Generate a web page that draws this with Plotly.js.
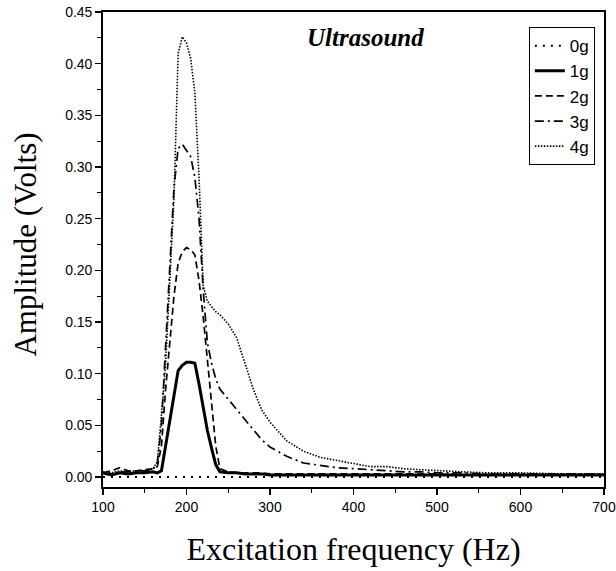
<!DOCTYPE html>
<html>
<head>
<meta charset="utf-8">
<script src="https://cdn.plot.ly/plotly-3.0.1.min.js"></script>
<style>html,body{margin:0;padding:0;background:#fff}#chart{width:616px;height:571px}</style>
</head>
<body>
<div id="chart"></div>
<script>
const freq = [100,110,120,130,140,150,160,165,170,175,180,185,190,195,200,205,210,215,220,225,230,235,240,250,260,270,280,290,300,320,340,360,380,400,420,440,460,480,500,530,560,600,650,700];
const amp0g = [0,0,0,0,0,0,0,0,0,0,0,0,0,0,0,0,0,0,0,0,0,0,0,0,0,0,0,0,0,0,0,0,0,0,0,0,0,0,0,0,0,0,0,0];
const amp1g = [0.004,0.002,0.004,0.003,0.004,0.004,0.005,0.004,0.006,0.03,0.055,0.08,0.103,0.108,0.111,0.111,0.110,0.09,0.068,0.045,0.028,0.012,0.005,0.004,0.004,0.003,0.003,0.003,0.002,0.002,0.002,0.002,0.002,0.002,0.002,0.002,0.002,0.002,0.002,0.002,0.002,0.002,0.002,0.002];
const amp2g = [0.004,0.006,0.009,0.006,0.006,0.007,0.008,0.01,0.03,0.085,0.13,0.175,0.207,0.218,0.222,0.22,0.215,0.19,0.155,0.115,0.07,0.03,0.008,0.005,0.004,0.004,0.004,0.004,0.003,0.003,0.003,0.003,0.003,0.003,0.003,0.003,0.003,0.003,0.003,0.002,0.002,0.002,0.002,0.002];
const amp3g = [0.004,0.003,0.005,0.005,0.006,0.006,0.008,0.012,0.05,0.13,0.21,0.28,0.318,0.322,0.316,0.31,0.29,0.25,0.181,0.13,0.11,0.095,0.085,0.075,0.066,0.055,0.045,0.036,0.029,0.02,0.0135,0.011,0.009,0.008,0.007,0.006,0.005,0.005,0.004,0.004,0.003,0.003,0.003,0.003];
const amp4g = [0.005,0.004,0.006,0.005,0.006,0.006,0.008,0.015,0.06,0.11,0.19,0.27,0.41,0.426,0.42,0.405,0.372,0.29,0.185,0.17,0.165,0.16,0.157,0.148,0.135,0.11,0.085,0.065,0.053,0.035,0.025,0.019,0.016,0.0135,0.01,0.01,0.008,0.007,0.006,0.005,0.004,0.004,0.003,0.003];
const seriesNames = ['0g','1g','2g','3g','4g'];
const xTicks = [100,200,300,400,500,600,700];
const yTicks = [0,0.05,0.10,0.15,0.20,0.25,0.30,0.35,0.40,0.45];

const styles = [
  {width:2, dash:'2px,6px'},
  {width:3, dash:'solid'},
  {width:1.7, dash:'7px,4px'},
  {width:1.7, dash:'9px,4px,2px,4px'},
  {width:1.6, dash:'1.5px,1.5px'}
];
const ys = [amp0g, amp1g, amp2g, amp3g, amp4g];
const traces = ys.map((y,i) => ({
  x: freq, y: y, name: seriesNames[i], type:'scatter', mode:'lines',
  line: {color:'#000', width: styles[i].width, dash: styles[i].dash}
}));

const layout = {
  width:616, height:571,
  margin:{l:103, r:12, t:12, b:84},
  paper_bgcolor:'#fff', plot_bgcolor:'#fff',
  showlegend:true,
  legend:{x:0.850, y:0.968, xanchor:'left', yanchor:'top', bordercolor:'#000', borderwidth:1,
    font:{family:'Liberation Sans, Arial', size:17, color:'#000'}, itemwidth:30, bgcolor:'#fff'},
  xaxis:{range:[100,700], tickvals:xTicks, ticktext:xTicks.map(String), ticks:'outside', ticklen:6, tickwidth:1.2, tickcolor:'#000',
    minor:{dtick:50, tick0:100, ticks:'outside', ticklen:4, tickcolor:'#000', tickwidth:1},
    showline:true, linecolor:'#000', linewidth:1.8, mirror:true, showgrid:false, zeroline:false,
    tickfont:{family:'Liberation Sans, Arial', size:14, color:'#000'},
    title:{text:'Excitation frequency (Hz)', font:{family:'Liberation Serif, Times New Roman', size:32, color:'#000'}, standoff:24}},
  yaxis:{range:[-0.0097,0.45], tickvals:yTicks, ticktext:yTicks.map(v=>v.toFixed(2)), ticks:'outside', ticklen:6, tickwidth:1.2, tickcolor:'#000',
    minor:{dtick:0.025, tick0:0, ticks:'outside', ticklen:4, tickcolor:'#000', tickwidth:1},
    showline:true, linecolor:'#000', linewidth:1.8, mirror:true, showgrid:false, zeroline:false,
    tickfont:{family:'Liberation Sans, Arial', size:14, color:'#000'}},
  annotations:[
    {text:'<b><i>Ultrasound</i></b>', xref:'paper', yref:'paper', x:0.523, y:0.947, xanchor:'center', yanchor:'middle', showarrow:false,
     font:{family:'Liberation Serif, Times New Roman', size:25, color:'#000'}},
    {text:'Amplitude (Volts)', xref:'paper', yref:'paper', x:-0.154, y:0.51, xanchor:'center', yanchor:'middle', textangle:-90, showarrow:false,
     font:{family:'Liberation Serif, Times New Roman', size:31, color:'#000'}}
  ]
};
Plotly.newPlot('chart', traces, layout, {displayModeBar:false, staticPlot:true});
</script>
</body>
</html>
